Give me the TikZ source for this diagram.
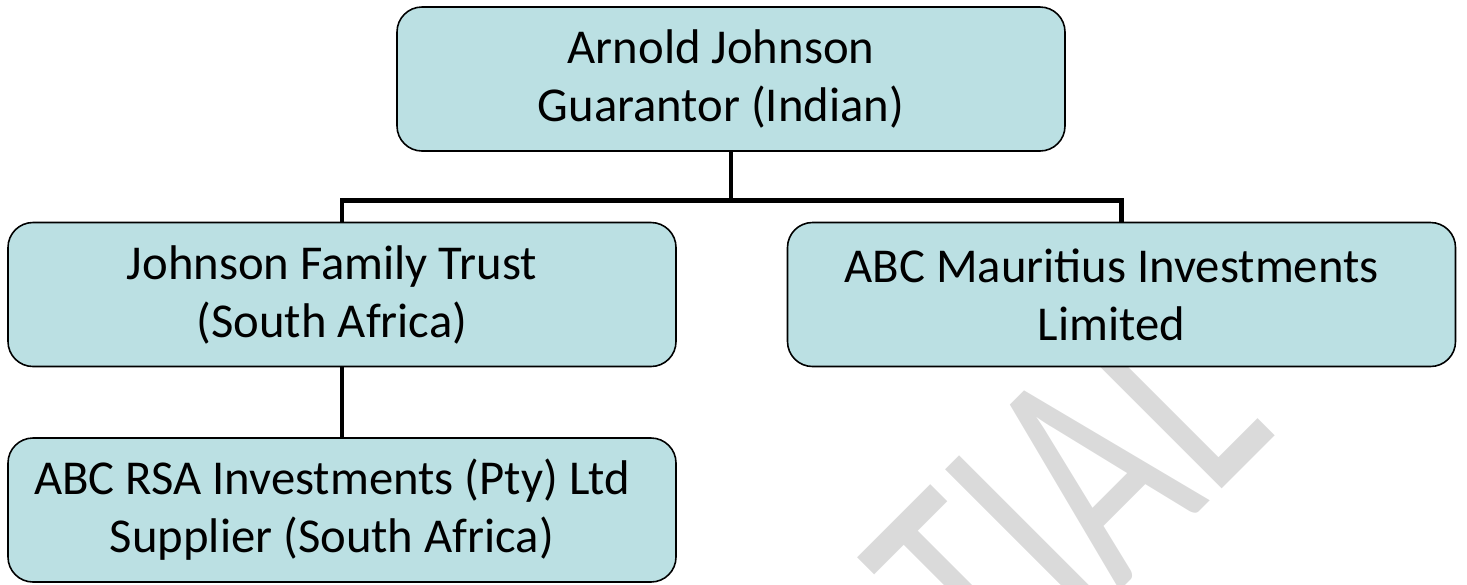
\documentclass[tikz,border=0pt]{standalone}
\usepackage{fontspec}
\setmainfont{Carlito}
\definecolor{boxfill}{RGB}{187,224,227}
\definecolor{stampgray}{RGB}{218,218,218}
\tikzset{
  entity/.style={draw=black, line width=0.9pt, fill=boxfill, rounded corners=0.5cm,
    minimum width=13.36cm, minimum height=2.88cm, inner sep=0pt},
  caption/.style={inner sep=0pt, align=center, font=\fontsize{27.7}{33}\selectfont},
  link/.style={line width=2.8pt}
}

\begin{document}
\begin{tikzpicture}
  \useasboundingbox (0.00, 0.00) rectangle (29.34, -11.68);
  % watermark, stretched and cut by the page edge
  \begin{scope}
    \clip (0.00, 0.00) rectangle (29.34, -11.68);
    \begin{scope}[shift={(20.06, -14.16)}, rotate=45, yscale=1.46]
      \node[transform shape, text=stampgray, anchor=base west, inner sep=0pt,
        font=\fontsize{127}{127}\selectfont] (stamp) at (0, 0) {TIAL};
    \end{scope}
  \end{scope}

  \node[entity] (guarantor) at (14.62, -1.58) {};
  \node[entity] (trust) at (6.84, -5.89) {};
  \node[entity] (mauritius) at (22.43, -5.89) {};
  \node[entity] (supplier) at (6.84, -10.20) {};

  \node[caption] (guarantortext) at ([xshift=-0.2cm]guarantor.center) {Arnold Johnson\\Guarantor (Indian)};
  \node[caption] (trusttext) at ([xshift=-0.2cm]trust.center) {Johnson Family Trust\\(South Africa)};
  \node[caption] (mauritiustext) at ([xshift=-0.2cm]mauritius.center) {ABC Mauritius Investments\\Limited};
  \node[caption] (suppliertext) at ([xshift=-0.2cm]supplier.center) {ABC RSA Investments (Pty) Ltd\\Supplier (South Africa)};

  \draw[link] (guarantor.south) -- ++(0, -0.97) coordinate (bar);
  \draw[link] (trust.north) |- (bar) -| (mauritius.north);
  \draw[link] (trust.south) -- (supplier.north);
\end{tikzpicture}
\end{document}
